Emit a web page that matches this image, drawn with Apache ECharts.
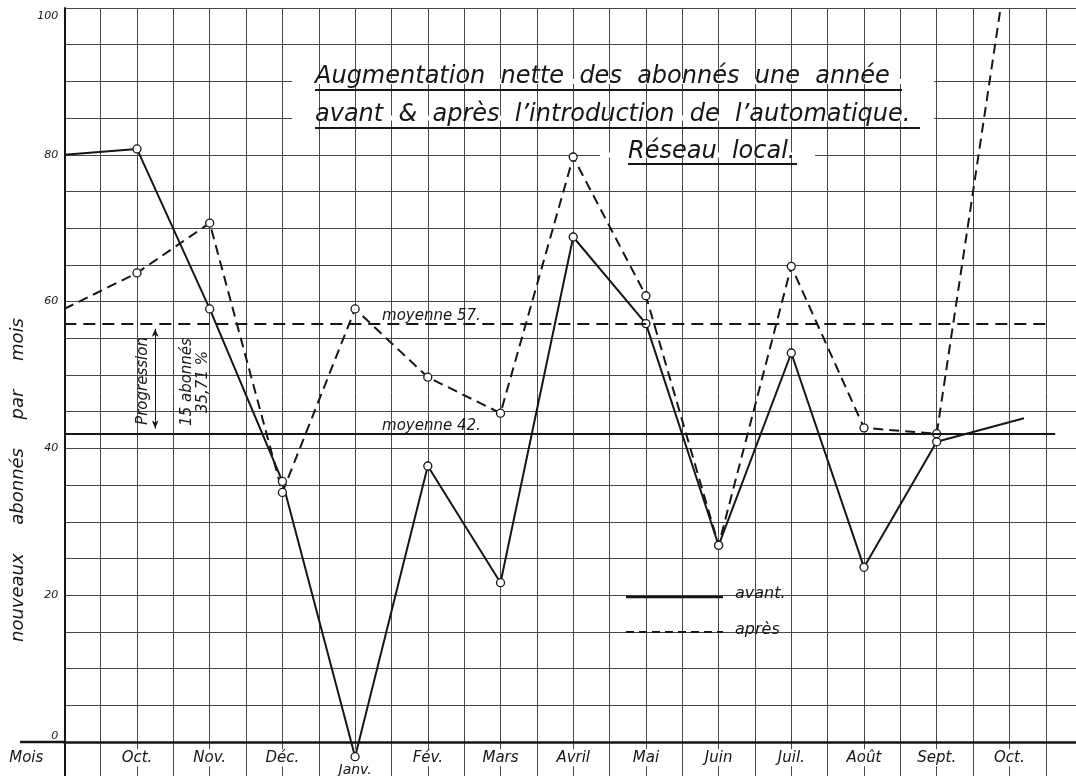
<!DOCTYPE html>
<html>
<head>
<meta charset="utf-8">
<script src="https://cdn.jsdelivr.net/npm/echarts@6/dist/echarts.min.js"></script>
<style>
html,body{margin:0;padding:0;background:#fff;}
#c{width:1076px;height:776px;}
</style>
</head>
<body>
<div id="c"></div>
<script>
// ---- data ----
const months = ['Mois','Oct.','Nov.','Déc.','Janv.','Fév.','Mars','Avril','Mai','Juin','Juil.','Août','Sept.','Oct.'];
const avantX = [0,1,2,3,4,5,6,7,8,9,10,11,12,13.2];
const avantY = [80,80.8,59,35.5,-2,37.6,21.7,68.8,57,26.8,53,23.8,40.9,44.1];
const apresX = [0,1,2,3,4,5,6,7,8,9,10,11,12,13];
const apresY = [59,63.9,70.7,34,59,49.7,44.8,79.7,60.8,26.8,64.8,42.8,42,108];
const moyenneAvant = 42;
const moyenneApres = 57;
const yTickLabels = [0,20,40,60,80,100];
const progression = {x:1.25, from:moyenneApres, to:moyenneAvant, texts:['Progression','15 abonnés','35,71 %']};

const INK = '#161616';
const FONT = '"DejaVu Sans", sans-serif';

function pts(xs, ys){
  return xs.map((x,i)=>({
    value:[x, ys[i]],
    symbol:(i===0||i===xs.length-1)?'none':'circle'
  }));
}

const chart = echarts.init(document.getElementById('c'), null, {renderer:'canvas'});

const option = {
  backgroundColor:'#ffffff',
  animation:false,
  grid:{left:64.3, right:-6.1, top:8, bottom:-2.7, containLabel:false, outerBoundsMode:'none'},
  xAxis:{
    type:'value', min:0, max:14, interval:0.5,
    axisLine:{show:true, onZero:true, lineStyle:{color:INK, width:2.5}},
    axisTick:{show:false},
    splitLine:{show:true, lineStyle:{color:'#474747', width:1}},
    axisLabel:{
      show:true, margin:-29.5, showMinLabel:true, showMaxLabel:false,
      color:INK, fontFamily:FONT, fontStyle:'italic', fontSize:15,
      formatter:function(v){
        if (Math.abs(v-Math.round(v))>1e-6) return '';
        const i=Math.round(v);
        if (i>=months.length) return '';
        if (i===0) return '{m|'+months[i]+'}';
        if (months[i]==='Janv.') return '{j|'+months[i]+'}';
        return '{a|'+months[i]+'}';
      },
      rich:{
        a:{backgroundColor:'#fff', padding:[1,3,1,3], fontFamily:FONT, fontStyle:'italic', fontSize:15, color:INK},
        m:{padding:[1,76,1,0], fontFamily:FONT, fontStyle:'italic', fontSize:15, color:INK},
        j:{backgroundColor:'#fff', padding:[14,3,1,3], fontFamily:FONT, fontStyle:'italic', fontSize:14, color:INK}
      }
    }
  },
  yAxis:{
    type:'value', min:-5, max:100, interval:5,
    axisLine:{show:true, onZero:true, lineStyle:{color:INK, width:2}},
    axisTick:{show:false},
    splitLine:{show:true, lineStyle:{color:'#474747', width:1}},
    axisLabel:{
      show:true, margin:6, color:INK, fontFamily:FONT, fontStyle:'italic', fontSize:11,
      formatter:function(v){
        const r=Math.round(v);
        if (Math.abs(v-r)>1e-6 || yTickLabels.indexOf(r)<0) return '';
        if (r===0) return '{z|0}';
        if (r===100) return '{h|100}';
        return String(r);
      },
      rich:{
        z:{padding:[0,0,12,0], fontFamily:FONT, fontStyle:'italic', fontSize:11, color:INK},
        h:{padding:[16,0,0,0], fontFamily:FONT, fontStyle:'italic', fontSize:11, color:INK}
      }
    }
  },
  series:[
    {
      name:'avant', type:'line', z:3, clip:true,
      data:pts(avantX, avantY),
      symbol:'circle', symbolSize:8, showSymbol:true,
      lineStyle:{color:INK, width:2},
      itemStyle:{color:'#fff', borderColor:INK, borderWidth:1.3},
      markLine:{
        silent:true, symbol:'none', label:{show:false}, animation:false,
        data:[
          [{coord:[0,moyenneAvant], lineStyle:{color:INK, width:2, type:'solid'}}, {coord:[13.63,moyenneAvant]}],
          [{coord:[progression.x, progression.from-0.7], symbol:'arrow', symbolSize:[5,8], lineStyle:{color:INK, width:1, type:'solid'}},
           {coord:[progression.x, progression.to+0.7], symbol:'arrow', symbolSize:[5,8]}]
        ]
      },
      markPoint:{
        silent:true, symbol:'circle', symbolSize:1, itemStyle:{color:'rgba(0,0,0,0)'},
        data:[{coord:[5.05,moyenneAvant], label:{show:true, position:'inside', offset:[0,-8], formatter:'moyenne '+moyenneAvant+'.', color:INK, fontFamily:FONT, fontStyle:'italic', fontSize:15}}]
      }
    },
    {
      name:'après', type:'line', z:3, clip:true,
      data:pts(apresX, apresY),
      symbol:'circle', symbolSize:8, showSymbol:true,
      lineStyle:{color:INK, width:2, type:[10,6]},
      itemStyle:{color:'#fff', borderColor:INK, borderWidth:1.3},
      markLine:{
        silent:true, symbol:'none', label:{show:false}, animation:false,
        data:[
          [{coord:[0,moyenneApres], lineStyle:{color:INK, width:2, type:[12,7]}}, {coord:[13.5,moyenneApres]}]
        ]
      },
      markPoint:{
        silent:true, symbol:'circle', symbolSize:1, itemStyle:{color:'rgba(0,0,0,0)'},
        data:[{coord:[5.05,moyenneApres], label:{show:true, position:'inside', offset:[0,-8], formatter:'moyenne '+moyenneApres+'.', color:INK, fontFamily:FONT, fontStyle:'italic', fontSize:15}}]
      }
    }
  ],
  graphic:[
    // erase horizontal grid lines behind the title block
    {type:'rect', z:1, silent:true, shape:{x:292, y:79, width:642, height:5}, style:{fill:'#fff'}},
    {type:'rect', z:1, silent:true, shape:{x:292, y:115.5, width:642, height:5}, style:{fill:'#fff'}},
    {type:'rect', z:1, silent:true, shape:{x:600, y:152.5, width:215, height:5}, style:{fill:'#fff'}},
    // x-axis line extension left of the y axis
    {type:'line', z:1, silent:true, shape:{x1:20, y1:742, x2:64, y2:742}, style:{stroke:INK, lineWidth:2.5}},
    // title
    {type:'text', z:5, silent:true, x:315, y:77, style:{text:'Augmentation  nette  des  abonnés  une  année', fill:INK, fontFamily:FONT, fontStyle:'italic', fontSize:24, align:'left', verticalAlign:'middle'}},
    {type:'text', z:5, silent:true, x:315, y:115, style:{text:'avant  &  après  l\u2019introduction  de  l\u2019automatique.', fill:INK, fontFamily:FONT, fontStyle:'italic', fontSize:24, align:'left', verticalAlign:'middle'}},
    {type:'text', z:5, silent:true, x:628, y:152, style:{text:'Réseau  local.', fill:INK, fontFamily:FONT, fontStyle:'italic', fontSize:24, align:'left', verticalAlign:'middle'}},
    {type:'line', z:5, silent:true, shape:{x1:315, y1:90, x2:902, y2:90}, style:{stroke:INK, lineWidth:1.8}},
    {type:'line', z:5, silent:true, shape:{x1:315, y1:128, x2:920, y2:128}, style:{stroke:INK, lineWidth:1.8}},
    {type:'line', z:5, silent:true, shape:{x1:628, y1:164, x2:797, y2:164}, style:{stroke:INK, lineWidth:1.8}},
    // y axis title
    {type:'text', z:5, silent:true, x:18, y:480, rotation:Math.PI/2, style:{text:'nouveaux     abonnés     par     mois', fill:INK, fontFamily:FONT, fontStyle:'italic', fontSize:18, align:'center', verticalAlign:'middle'}},
    // progression annotation
    {type:'text', z:5, silent:true, x:143, y:381, rotation:Math.PI/2, style:{text:progression.texts[0], fill:INK, fontFamily:FONT, fontStyle:'italic', fontSize:15, align:'center', verticalAlign:'middle'}},
    {type:'text', z:5, silent:true, x:187, y:382, rotation:Math.PI/2, style:{text:progression.texts[1], fill:INK, fontFamily:FONT, fontStyle:'italic', fontSize:15, align:'center', verticalAlign:'middle'}},
    {type:'text', z:5, silent:true, x:203, y:382, rotation:Math.PI/2, style:{text:progression.texts[2], fill:INK, fontFamily:FONT, fontStyle:'italic', fontSize:15, align:'center', verticalAlign:'middle'}},
    // legend
    {type:'line', z:5, silent:true, shape:{x1:626, y1:597, x2:723, y2:597}, style:{stroke:INK, lineWidth:2.6}},
    {type:'text', z:5, silent:true, x:735, y:594, style:{text:'avant.', fill:INK, fontFamily:FONT, fontStyle:'italic', fontSize:16, align:'left', verticalAlign:'middle'}},
    {type:'line', z:5, silent:true, shape:{x1:626, y1:632, x2:723, y2:632}, style:{stroke:INK, lineWidth:2, lineDash:[8,5]}},
    {type:'text', z:5, silent:true, x:735, y:630, style:{text:'après', fill:INK, fontFamily:FONT, fontStyle:'italic', fontSize:16, align:'left', verticalAlign:'middle'}}
  ]
};
chart.setOption(option);
</script>
</body>
</html>
